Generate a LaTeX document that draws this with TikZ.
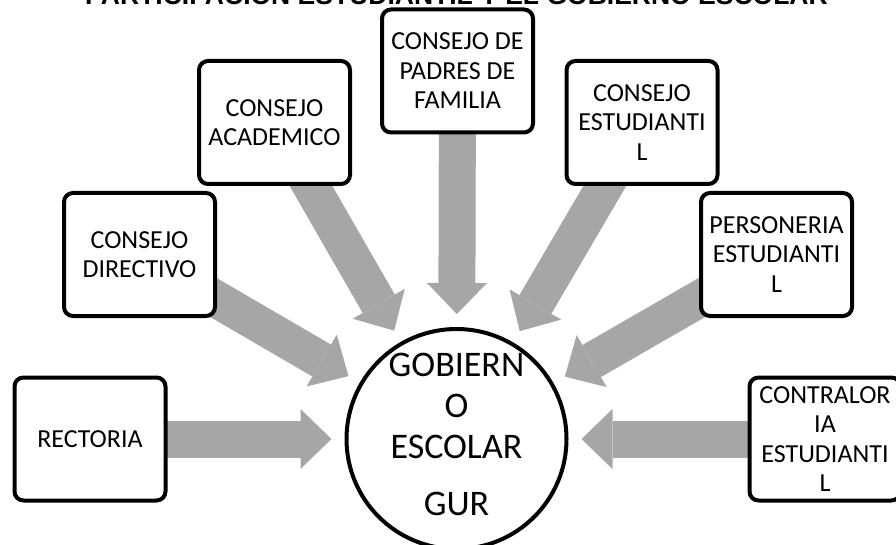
\documentclass[tikz,border=0pt]{standalone}
\usepackage{fontspec}
\setmainfont{Carlito}
\newfontfamily\titlefont{Liberation Sans}
\usetikzlibrary{arrows.meta,backgrounds}
\definecolor{arrowgray}{HTML}{A6A6A6}
\tikzset{
  orgbox/.style={draw, line width=4pt, rounded corners=9pt, fill=white,
    minimum width=151pt, minimum height=123pt, inner sep=0pt, align=center,
    font=\fontsize{26}{29.5}\selectfont},
  hubcircle/.style={circle, draw, line width=4pt, fill=white,
    minimum size=220pt, inner sep=0pt, align=center, text depth=10pt,
    font=\fontsize{36}{41}\selectfont},
  bigarrow/.style={draw=arrowgray, line width=37pt, shorten >=13pt,
    -{Triangle[width=60pt,length=31pt,line width=0pt]}}
}
\begin{document}
\begin{tikzpicture}[x=1pt,y=-1pt]

        \useasboundingbox (0,0) rectangle (896,545);

        \node (title) at (456.5,4.5) [anchor=base,
          font=\titlefont\bfseries\fontsize{26.5}{30}\selectfont]
          {PARTICIPACION ESTUDIANTIL Y EL GOBIERNO ESCOLAR};

        \node[hubcircle] (gob) at (456.5,439) {GOBIERN\\O\\ESCOLAR\\[16pt]GUR};

        \begin{scope}[every node/.style={orgbox}]
          \node (rect) at (90,439)     {RECTORIA};
          \node (dir)  at (139.5,254.5) {CONSEJO\\DIRECTIVO};
          \node (acad) at (274.5,122.5) {CONSEJO\\ACADEMICO};
          \node (pad)  at (457.5,71)    {CONSEJO DE\\PADRES DE\\FAMILIA};
          \node (est)  at (642,122.5)   {CONSEJO\\ESTUDIANTI\\L};
          \node (pers) at (776.5,254.5) {PERSONERIA\\ESTUDIANTI\\L};
          \node (cont) at (825,439)     {CONTRALOR\\IA\\ESTUDIANTI\\L};
        \end{scope}

        \begin{scope}[on background layer]
          \path (rect.center) edge[bigarrow] (gob);
          \path (dir.center)  edge[bigarrow] (gob);
          \path (acad.center) edge[bigarrow] (gob);
          \path (pad.center)  edge[bigarrow] (gob);
          \path (est.center)  edge[bigarrow] (gob);
          \path (pers.center) edge[bigarrow] (gob);
          \path (cont.center) edge[bigarrow] (gob);
        \end{scope}

      \end{tikzpicture}
\end{document}
